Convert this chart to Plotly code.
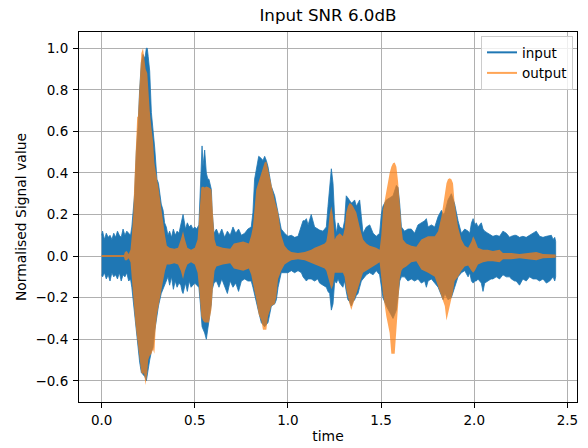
import plotly.graph_objects as go

# ---- data (envelope of each waveform) ----
t_in = [0.000, 0.005, 0.015, 0.025, 0.035, 0.045, 0.055, 0.065, 0.075, 0.085, 0.095, 0.105, 0.115, 0.125,
        0.135, 0.145, 0.155, 0.162, 0.170, 0.177, 0.186, 0.195, 0.204, 0.213, 0.222, 0.232, 0.240, 0.245,
        0.250, 0.258, 0.267, 0.276, 0.285, 0.297, 0.305, 0.320, 0.330, 0.338, 0.347, 0.356, 0.365, 0.375,
        0.385, 0.395, 0.405, 0.415, 0.425, 0.432, 0.437, 0.443, 0.450, 0.460, 0.470, 0.480, 0.490, 0.500,
        0.510, 0.522, 0.530, 0.539, 0.544, 0.553, 0.562, 0.570, 0.576, 0.589, 0.594, 0.603, 0.616, 0.630,
        0.645, 0.660, 0.675, 0.690, 0.705, 0.720, 0.735, 0.750, 0.768, 0.785, 0.803, 0.812, 0.821, 0.830,
        0.836, 0.843, 0.857, 0.866, 0.875, 0.884, 0.893, 0.911, 0.929, 0.938, 0.947, 0.964, 0.982, 1.000,
        1.018, 1.036, 1.054, 1.072, 1.081, 1.090, 1.099, 1.108, 1.125, 1.143, 1.160, 1.170, 1.188, 1.206,
        1.215, 1.224, 1.233, 1.242, 1.251, 1.260, 1.269, 1.278, 1.295, 1.304, 1.313, 1.322, 1.331, 1.340,
        1.349, 1.358, 1.367, 1.376, 1.385, 1.394, 1.403, 1.421, 1.439, 1.457, 1.474, 1.492, 1.501, 1.510,
        1.528, 1.546, 1.564, 1.582, 1.591, 1.600, 1.609, 1.626, 1.644, 1.662, 1.680, 1.698, 1.716, 1.734,
        1.743, 1.752, 1.770, 1.788, 1.806, 1.824, 1.833, 1.842, 1.859, 1.877, 1.895, 1.913, 1.931, 1.949,
        1.967, 1.976, 1.985, 1.994, 2.003, 2.011, 2.020, 2.038, 2.047, 2.056, 2.073, 2.090, 2.100, 2.118,
        2.136, 2.154, 2.172, 2.190, 2.199, 2.217, 2.225, 2.243, 2.261, 2.279, 2.297, 2.315, 2.333, 2.351,
        2.369, 2.387, 2.405, 2.414, 2.423, 2.432, 2.437]
in_upper = [0.10, 0.12, 0.08, 0.11, 0.09, 0.10, 0.08, 0.11, 0.09, 0.12, 0.10, 0.09, 0.13, 0.10,
            0.12, 0.11, 0.10, 0.14, 0.22, 0.30, 0.50, 0.62, 0.80, 0.93, 0.97, 0.95, 1.00, 1.00,
            0.96, 0.89, 0.69, 0.61, 0.52, 0.37, 0.35, 0.25, 0.22, 0.16, 0.14, 0.10, 0.12, 0.09,
            0.13, 0.10, 0.12, 0.11, 0.15, 0.19, 0.20, 0.17, 0.13, 0.16, 0.14, 0.15, 0.13, 0.14,
            0.13, 0.15, 0.32, 0.53, 0.43, 0.51, 0.40, 0.37, 0.37, 0.32, 0.21, 0.11, 0.13, 0.10,
            0.13, 0.09, 0.12, 0.10, 0.14, 0.11, 0.13, 0.10, 0.11, 0.13, 0.14, 0.21, 0.37, 0.42,
            0.45, 0.48, 0.47, 0.46, 0.48, 0.46, 0.43, 0.335, 0.29, 0.25, 0.21, 0.13, 0.11, 0.095,
            0.10, 0.09, 0.095, 0.14, 0.17, 0.17, 0.18, 0.15, 0.20, 0.14, 0.13, 0.125, 0.12, 0.14,
            0.24, 0.35, 0.42, 0.35, 0.18, 0.11, 0.16, 0.14, 0.13, 0.17, 0.29, 0.28, 0.27, 0.255,
            0.26, 0.27, 0.24, 0.255, 0.27, 0.19, 0.11, 0.14, 0.15, 0.11, 0.095, 0.11, 0.20, 0.24,
            0.27, 0.28, 0.29, 0.34, 0.33, 0.25, 0.14, 0.12, 0.13, 0.13, 0.11, 0.15, 0.16, 0.17,
            0.18, 0.14, 0.15, 0.14, 0.19, 0.22, 0.20, 0.21, 0.27, 0.30, 0.25, 0.17, 0.11, 0.13,
            0.12, 0.11, 0.16, 0.18, 0.15, 0.16, 0.14, 0.16, 0.13, 0.12, 0.11, 0.10, 0.095, 0.10,
            0.095, 0.12, 0.11, 0.09, 0.095, 0.10, 0.10, 0.09, 0.095, 0.09, 0.10, 0.11, 0.12, 0.095,
            0.09, 0.095, 0.10, 0.10, 0.08, 0.09, 0.07]
in_lower = [-0.09, -0.10, -0.08, -0.11, -0.09, -0.12, -0.08, -0.10, -0.09, -0.11, -0.08, -0.12, -0.09, -0.10,
            -0.08, -0.12, -0.11, -0.15, -0.19, -0.27, -0.35, -0.43, -0.51, -0.56, -0.57, -0.58, -0.60, -0.58,
            -0.55, -0.50, -0.46, -0.44, -0.36, -0.28, -0.24, -0.18, -0.16, -0.14, -0.12, -0.10, -0.14, -0.10,
            -0.16, -0.12, -0.15, -0.13, -0.14, -0.17, -0.18, -0.16, -0.13, -0.17, -0.12, -0.15, -0.14, -0.13,
            -0.14, -0.15, -0.23, -0.34, -0.35, -0.37, -0.40, -0.34, -0.31, -0.23, -0.16, -0.13, -0.12, -0.15,
            -0.11, -0.14, -0.18, -0.12, -0.15, -0.13, -0.17, -0.12, -0.11, -0.12, -0.12, -0.15, -0.18, -0.21,
            -0.24, -0.27, -0.32, -0.33, -0.34, -0.33, -0.32, -0.24, -0.23, -0.21, -0.15, -0.08, -0.08, -0.08,
            -0.07, -0.08, -0.07, -0.08, -0.10, -0.11, -0.12, -0.11, -0.11, -0.12, -0.11, -0.13, -0.14, -0.15,
            -0.17, -0.18, -0.26, -0.23, -0.12, -0.13, -0.11, -0.13, -0.15, -0.12, -0.17, -0.21, -0.22, -0.24,
            -0.22, -0.21, -0.19, -0.18, -0.15, -0.12, -0.11, -0.09, -0.08, -0.09, -0.07, -0.09, -0.14, -0.20,
            -0.24, -0.27, -0.30, -0.26, -0.20, -0.12, -0.10, -0.10, -0.12, -0.11, -0.12, -0.11, -0.13, -0.12,
            -0.15, -0.12, -0.11, -0.13, -0.15, -0.19, -0.21, -0.18, -0.21, -0.20, -0.15, -0.10, -0.08, -0.07,
            -0.10, -0.08, -0.12, -0.13, -0.12, -0.12, -0.11, -0.13, -0.17, -0.13, -0.12, -0.11, -0.11, -0.10,
            -0.11, -0.09, -0.10, -0.10, -0.11, -0.12, -0.12, -0.14, -0.11, -0.12, -0.10, -0.11, -0.11, -0.12,
            -0.11, -0.13, -0.12, -0.11, -0.10, -0.12, -0.10]

t_out = [0.000, 0.120, 0.125, 0.135, 0.145, 0.155, 0.162, 0.170, 0.174, 0.181, 0.186, 0.191, 0.195, 0.204,
         0.213, 0.222, 0.227, 0.236, 0.245, 0.250, 0.258, 0.267, 0.276, 0.283, 0.290, 0.297, 0.305, 0.320,
         0.330, 0.340, 0.350, 0.365, 0.390, 0.410, 0.425, 0.437, 0.447, 0.460, 0.480, 0.500, 0.515, 0.526,
         0.535, 0.544, 0.553, 0.562, 0.576, 0.589, 0.597, 0.606, 0.616, 0.650, 0.690, 0.710, 0.760, 0.790,
         0.803, 0.812, 0.830, 0.843, 0.857, 0.866, 0.875, 0.884, 0.893, 0.911, 0.929, 0.938, 0.947, 0.964,
         0.982, 1.000, 1.018, 1.054, 1.090, 1.125, 1.143, 1.170, 1.197, 1.206, 1.215, 1.224, 1.233, 1.242,
         1.251, 1.260, 1.278, 1.295, 1.304, 1.313, 1.322, 1.331, 1.340, 1.349, 1.367, 1.385, 1.403, 1.421,
         1.439, 1.457, 1.474, 1.492, 1.501, 1.510, 1.528, 1.546, 1.555, 1.564, 1.573, 1.582, 1.591, 1.600,
         1.609, 1.617, 1.635, 1.662, 1.689, 1.716, 1.752, 1.788, 1.806, 1.824, 1.842, 1.851, 1.859, 1.868,
         1.877, 1.886, 1.895, 1.913, 1.931, 1.949, 1.967, 1.985, 1.994, 2.003, 2.020, 2.047, 2.073, 2.100,
         2.136, 2.154, 2.199, 2.243, 2.333, 2.369, 2.437]
out_upper = [0.005, 0.005, 0.02, 0.025, 0.01, 0.03, 0.10, 0.20, 0.32, 0.50, 0.575, 0.67, 0.67, 0.85,
             0.976, 1.00, 0.97, 0.90, 0.88, 0.80, 0.70, 0.62, 0.55, 0.45, 0.40, 0.37, 0.33, 0.22,
             0.16, 0.10, 0.05, 0.04, 0.035, 0.04, 0.08, 0.12, 0.08, 0.04, 0.03, 0.04, 0.08, 0.20,
             0.33, 0.335, 0.33, 0.335, 0.33, 0.32, 0.19, 0.08, 0.05, 0.04, 0.035, 0.06, 0.07, 0.06,
             0.10, 0.14, 0.32, 0.36, 0.40, 0.43, 0.45, 0.455, 0.415, 0.35, 0.27, 0.24, 0.21, 0.10,
             0.05, 0.03, 0.02, 0.015, 0.02, 0.03, 0.04, 0.05, 0.06, 0.07, 0.12, 0.20, 0.24, 0.19,
             0.08, 0.095, 0.11, 0.095, 0.13, 0.21, 0.24, 0.255, 0.25, 0.24, 0.21, 0.14, 0.08, 0.06,
             0.05, 0.045, 0.04, 0.03, 0.10, 0.22, 0.32, 0.40, 0.43, 0.447, 0.45, 0.43, 0.36, 0.24,
             0.14, 0.08, 0.06, 0.05, 0.045, 0.08, 0.095, 0.095, 0.12, 0.19, 0.30, 0.35, 0.37, 0.375,
             0.37, 0.35, 0.25, 0.14, 0.08, 0.05, 0.04, 0.07, 0.095, 0.08, 0.04, 0.03, 0.03, 0.025,
             0.03, 0.015, 0.015, 0.01, 0.02, 0.01, 0.008]
out_lower = [-0.005, -0.005, -0.02, -0.02, -0.01, -0.03, -0.10, -0.19, -0.25, -0.32, -0.36, -0.40, -0.43, -0.50,
             -0.56, -0.57, -0.56, -0.62, -0.56, -0.50, -0.48, -0.47, -0.45, -0.47, -0.35, -0.28, -0.23, -0.16,
             -0.12, -0.07, -0.04, -0.04, -0.035, -0.04, -0.07, -0.11, -0.07, -0.04, -0.03, -0.04, -0.08, -0.18,
             -0.29, -0.31, -0.32, -0.32, -0.32, -0.26, -0.15, -0.07, -0.05, -0.04, -0.035, -0.06, -0.07, -0.06,
             -0.09, -0.13, -0.21, -0.28, -0.31, -0.355, -0.355, -0.355, -0.29, -0.24, -0.23, -0.195, -0.11, -0.07,
             -0.04, -0.03, -0.02, -0.015, -0.02, -0.03, -0.04, -0.05, -0.06, -0.07, -0.10, -0.13, -0.16, -0.14,
             -0.08, -0.08, -0.08, -0.08, -0.10, -0.16, -0.20, -0.23, -0.26, -0.23, -0.18, -0.13, -0.08, -0.07,
             -0.06, -0.05, -0.04, -0.03, -0.10, -0.18, -0.29, -0.37, -0.47, -0.47, -0.47, -0.37, -0.24, -0.11,
             -0.07, -0.06, -0.05, -0.03, -0.025, -0.065, -0.08, -0.10, -0.14, -0.19, -0.24, -0.31, -0.29, -0.25,
             -0.21, -0.17, -0.12, -0.10, -0.07, -0.05, -0.045, -0.07, -0.08, -0.07, -0.04, -0.03, -0.025, -0.025,
             -0.03, -0.015, -0.015, -0.01, -0.02, -0.01, -0.008]

x_ticks = [0.0, 0.5, 1.0, 1.5, 2.0, 2.5]
y_ticks = [-0.6, -0.4, -0.2, 0.0, 0.2, 0.4, 0.6, 0.8, 1.0]

BLUE = "#1f77b4"
ORANGE_A = "rgba(255,127,14,0.7)"

fig = go.Figure()

# input waveform (filled envelope)
fig.add_trace(go.Scatter(
    x=t_in + t_in[::-1], y=in_upper + in_lower[::-1],
    mode="lines", fill="toself", fillcolor=BLUE,
    line=dict(color=BLUE, width=0.8), hoverinfo="skip", showlegend=False))

# output waveform (filled envelope, alpha 0.7)
fig.add_trace(go.Scatter(
    x=t_out + t_out[::-1], y=out_upper + out_lower[::-1],
    mode="lines", fill="toself", fillcolor=ORANGE_A,
    line=dict(color=ORANGE_A, width=0), hoverinfo="skip", showlegend=False))

# legend entries
fig.add_trace(go.Scatter(x=[None], y=[None], mode="lines", name="input",
                         line=dict(color=BLUE, width=2)))
fig.add_trace(go.Scatter(x=[None], y=[None], mode="lines", name="output",
                         line=dict(color=ORANGE_A, width=2)))

axis_common = dict(
    showline=True, linecolor="black", linewidth=1.1, mirror=True,
    ticks="outside", ticklen=5, tickwidth=1.1, tickcolor="black",
    showgrid=True, gridcolor="#b0b0b0", gridwidth=0.8, zeroline=False,
    tickfont=dict(family="DejaVu Sans", size=13.5, color="black"),
    tickformat=".1f", automargin=False,
)

fig.update_layout(
    width=588, height=448,
    margin=dict(l=79, r=11, t=32, b=46),
    paper_bgcolor="white", plot_bgcolor="white",
    font=dict(family="DejaVu Sans", color="black"),
    title=dict(text="Input SNR 6.0dB", x=(79 + 577) / 2 / 588, xanchor="center",
               y=1 - 15 / 448, yanchor="middle",
               font=dict(family="DejaVu Sans", size=16.7, color="black")),
    xaxis=dict(range=[-0.1215, 2.5515], tickvals=x_ticks, ticklabelstandoff=1,
               title=dict(text="time", standoff=4,
                          font=dict(family="DejaVu Sans", size=13.9, color="black")),
               **axis_common),
    yaxis=dict(range=[-0.702, 1.078], tickvals=y_ticks, ticklabelstandoff=2,
               title=dict(text="Normalised Signal value", standoff=5,
                          font=dict(family="DejaVu Sans", size=13.9, color="black")),
               **axis_common),
    legend=dict(x=0.992, y=0.989, xanchor="right", yanchor="top",
                bgcolor="rgba(255,255,255,0.8)", bordercolor="#cccccc", borderwidth=1,
                font=dict(family="DejaVu Sans", size=13.5, color="black"),
                itemwidth=30, tracegroupgap=0),
)

fig.write_html("out.html")
